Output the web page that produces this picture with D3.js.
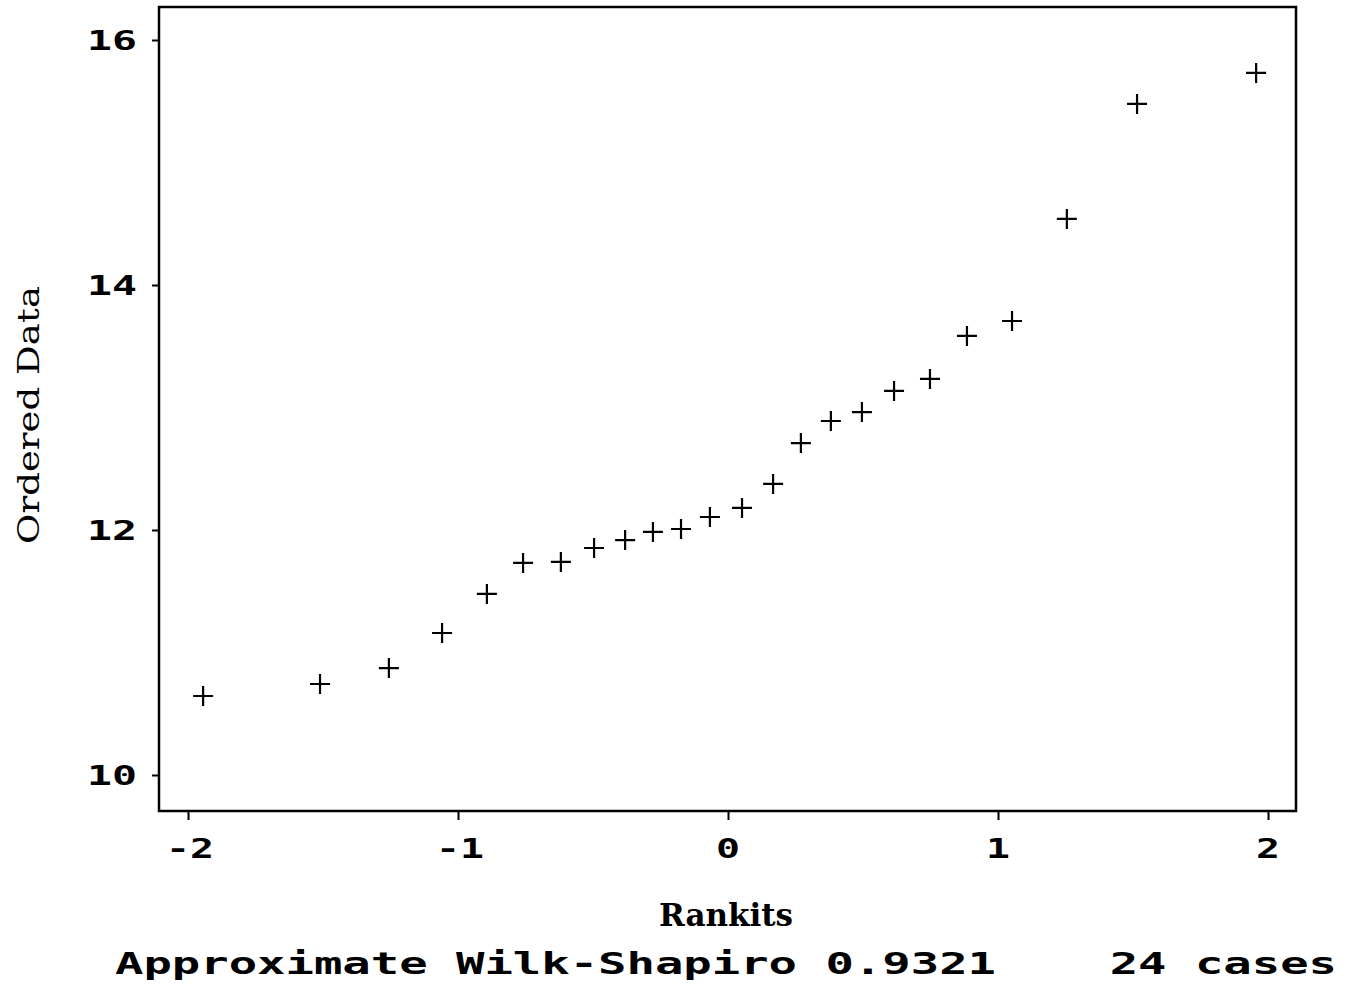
<!DOCTYPE html>
<html>
<head>
<meta charset="utf-8">
<script src="https://cdn.jsdelivr.net/npm/d3@7"></script>
<style>
  html, body { margin: 0; padding: 0; background: #fff; }
  svg { display: block; }
</style>
</head>
<body>
<svg id="chart" width="1361" height="986"></svg>
<script>
// ---- data ----
const rankits = [-1.944, -1.511, -1.256, -1.059, -0.893, -0.759, -0.619, -0.496, -0.381, -0.278,
                 -0.174, -0.067, 0.052, 0.167, 0.270, 0.381, 0.496, 0.615, 0.748, 0.885,
                 1.052, 1.255, 1.515, 1.956];
const orderedData = [10.645, 10.743, 10.873, 11.159, 11.478, 11.731, 11.739, 11.853, 11.918, 11.984,
                     12.008, 12.106, 12.180, 12.376, 12.710, 12.890, 12.963, 13.135, 13.233, 13.584,
                     13.706, 14.539, 15.478, 15.731];
const xTicks = [-2, -1, 0, 1, 2];
const xTickLabels = ["-2", "-1", "0", "1", "2"];
const yTicks = [10, 12, 14, 16];
const yTickLabels = ["10", "12", "14", "16"];
const xTitle = "Rankits";
const yTitle = "Ordered Data";
const caption = "Approximate Wilk-Shapiro 0.9321    24 cases";

// ---- layout ----
const svg = d3.select("#chart");
const frame = { left: 159, right: 1296, top: 7, bottom: 811 };
const x = d3.scaleLinear().domain([-2, 2]).range([188, 1268]);
const y = d3.scaleLinear().domain([10, 16]).range([775, 40]);

const monoFont = "'DejaVu Sans Mono', 'Liberation Mono', monospace";
const serifFont = "'DejaVu Serif', 'Liberation Serif', serif";

// frame
svg.append("rect")
  .attr("x", frame.left).attr("y", frame.top)
  .attr("width", frame.right - frame.left).attr("height", frame.bottom - frame.top)
  .attr("fill", "none").attr("stroke", "#000").attr("stroke-width", 2.5);

// y axis
const yAxis = d3.axisLeft(y).tickValues(yTicks).tickSize(7).tickFormat("");
const gy = svg.append("g").attr("transform", `translate(${frame.left},0)`).call(yAxis);
gy.select(".domain").remove();
gy.selectAll(".tick line").attr("stroke", "#000").attr("stroke-width", 2);
svg.append("g").selectAll("text").data(yTicks).join("text")
  .attr("x", 137).attr("y", d => y(d) + 10)
  .attr("text-anchor", "end")
  .attr("font-family", monoFont).attr("font-weight", "bold").attr("font-size", 27)
  .attr("textLength", 50).attr("lengthAdjust", "spacingAndGlyphs")
  .text((d, i) => yTickLabels[i]);

// x axis
const xAxis = d3.axisBottom(x).tickValues(xTicks).tickSize(9).tickFormat("");
const gx = svg.append("g").attr("transform", `translate(0,${frame.bottom})`).call(xAxis);
gx.select(".domain").remove();
gx.selectAll(".tick line").attr("stroke", "#000").attr("stroke-width", 2);
svg.append("g").selectAll("text").data(xTicks).join("text")
  .attr("x", d => x(d) + (d < 0 ? 2 : 0)).attr("y", 858)
  .attr("text-anchor", "middle")
  .attr("font-family", monoFont).attr("font-weight", "bold").attr("font-size", 27)
  .attr("textLength", (d, i) => xTickLabels[i].length * 24)
  .attr("lengthAdjust", "spacingAndGlyphs")
  .text((d, i) => xTickLabels[i]);

// titles
svg.append("text")
  .attr("x", 726).attr("y", 926)
  .attr("text-anchor", "middle")
  .attr("font-family", serifFont).attr("font-weight", "bold").attr("font-size", 31)
  .attr("textLength", 134).attr("lengthAdjust", "spacingAndGlyphs")
  .text(xTitle);

svg.append("text")
  .attr("transform", "translate(39,415) rotate(-90)")
  .attr("text-anchor", "middle")
  .attr("font-family", serifFont).attr("font-size", 30)
  .attr("textLength", 258).attr("lengthAdjust", "spacingAndGlyphs")
  .text(yTitle);

svg.append("text")
  .attr("x", 115).attr("y", 974)
  .attr("font-family", monoFont).attr("font-weight", "bold").attr("font-size", 30)
  .attr("textLength", 1222).attr("lengthAdjust", "spacingAndGlyphs")
  .attr("xml:space", "preserve").style("white-space", "pre")
  .text(caption);

// points (plus markers)
const pts = d3.range(rankits.length).map(i => ({ x: rankits[i], y: orderedData[i] }));
const sym = d3.symbol().type(d3.symbolCross);
svg.append("g").selectAll("path").data(pts).join("path")
  .attr("d", d => {
    const cx = x(d.x), cy = y(d.y), r = 10;
    return `M${cx - r},${cy}H${cx + r}M${cx},${cy - r}V${cy + r}`;
  })
  .attr("stroke", "#000").attr("stroke-width", 2.2).attr("fill", "none");
</script>
</body>
</html>
